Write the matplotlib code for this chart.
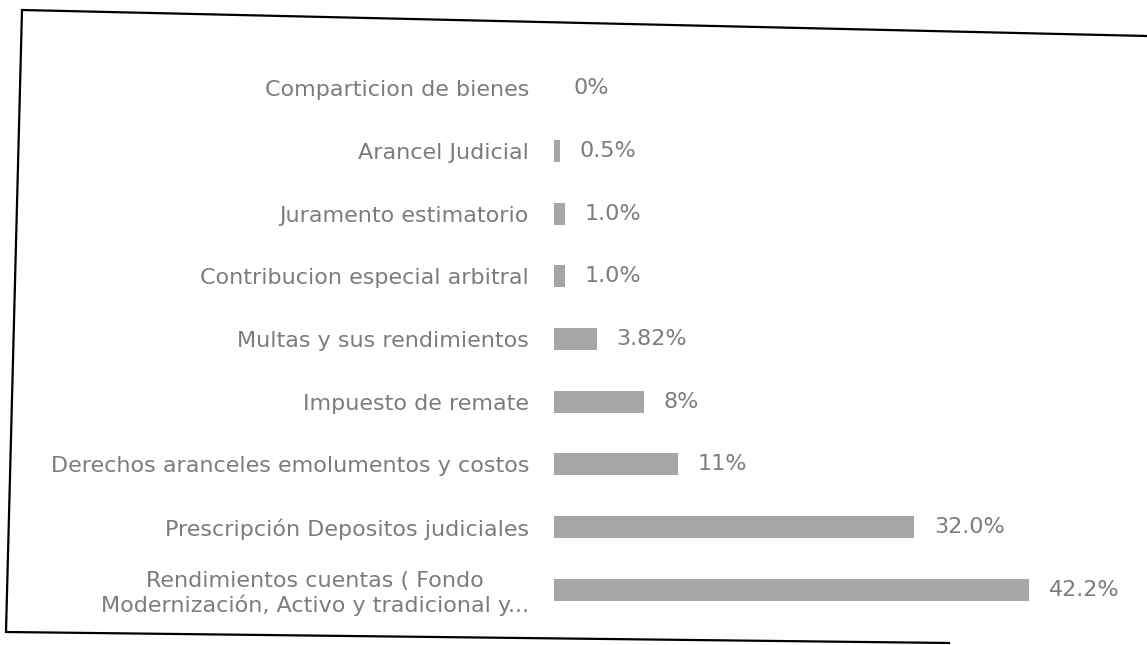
import matplotlib.pyplot as plt
from matplotlib.patches import Polygon

# categories top to bottom
categories = [
    'Comparticion de bienes',
    'Arancel Judicial',
    'Juramento estimatorio',
    'Contribucion especial arbitral',
    'Multas y sus rendimientos',
    'Impuesto de remate',
    'Derechos aranceles emolumentos y costos',
    'Prescripción Depositos judiciales',
    'Rendimientos cuentas ( Fondo\nModernización, Activo y tradicional y...',
]
values = [0, 0.5, 1.0, 1.0, 3.82, 8, 11, 32.0, 42.2]
value_labels = ['0%', '0.5%', '1.0%', '1.0%', '3.82%', '8%', '11%', '32.0%', '42.2%']

text_color = '#7c7c7c'
bar_color = '#a6a6a6'

fig = plt.figure(figsize=(11.47, 6.45), dpi=100)
ax = fig.add_axes([0.483, 0.037, 0.491, 0.875])

y_pos = list(range(len(categories)))
ax.barh(y_pos, values, height=0.35, color=bar_color)

ax.set_ylim(len(categories) - 0.5, -0.5)
ax.set_xlim(0, 50)
ax.set_yticks(y_pos)
ax.set_yticklabels(categories, fontsize=16, color=text_color, family='DejaVu Sans')
for lbl in ax.get_yticklabels():
    lbl.set_multialignment('center')
ax.tick_params(axis='y', length=0, pad=18)
ax.set_xticks([])
for s in ax.spines.values():
    s.set_visible(False)

for i, (v, t) in enumerate(zip(values, value_labels)):
    ax.annotate(t, (v, i), xytext=(14, 0), textcoords='offset points',
                va='center', ha='left', fontsize=16, color=text_color,
                family='DejaVu Sans')

# slightly skewed scan frame
frame = Polygon([(1.0, 1 - 36 / 645), (22 / 1147, 1 - 10 / 645),
                 (6 / 1147, 1 - 632 / 645), (950 / 1147, 1 - 643 / 645)],
                closed=False, fill=False, edgecolor='black', linewidth=1.6,
                transform=fig.transFigure)
fig.add_artist(frame)

plt.savefig('out.png')
